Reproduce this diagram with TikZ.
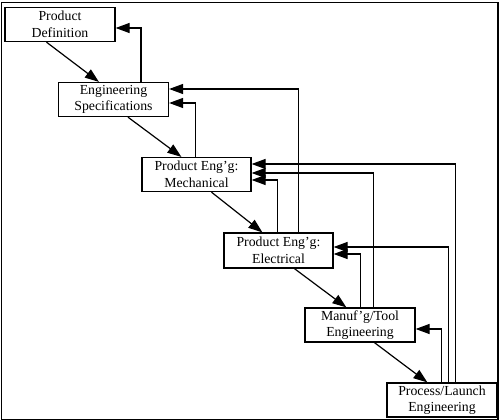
\documentclass[tikz,border=0pt]{standalone}
\usepackage{fontspec}
\setmainfont{Liberation Serif}
\usetikzlibrary{arrows.meta}
\begin{document}
\begin{tikzpicture}[x=1pt,y=-1pt,
  box/.style={draw,line width=1.2pt,minimum width=110pt,minimum height=34pt,inner sep=0pt,
    align=center,font=\fontsize{13.8pt}{16.5pt}\selectfont},
  arr/.style={line width=1.2pt,-{Triangle[length=14pt,width=10pt]}}]
\useasboundingbox (0,0) rectangle (501,420);
\draw[line width=1.6pt] (1.5,2.5) rectangle (498,419.5);
\node[box] (pd) at (60,24.5) {Product\\Definition};
\node[box] (es) at (113.5,99.5) {Engineering\\Specifications};
\node[box,minimum width=109pt] (me) at (196.5,174.5) {Product Eng’g:\\Mechanical};
\node[box,minimum width=109pt,minimum height=35pt] (el) at (278.5,250.5) {Product Eng’g:\\Electrical};
\node[box] (mt) at (360,325) {Manuf’g/Tool\\Engineering};
\node[box] (pl) at (442,400) {Process/Launch\\Engineering};
% forward flow
\draw[arr] ([xshift=42pt]pd.south west) -- ([xshift=41pt]es.north west);
\draw[arr] ([xshift=70pt]es.south west) -- ([xshift=40pt]me.north west);
\draw[arr] ([xshift=70pt]me.south west) -- ([xshift=39pt]el.north west);
\draw[arr] ([xshift=71pt]el.south west) -- ([xshift=42pt]mt.north west);
\draw[arr] ([xshift=70pt]mt.south west) -- ([xshift=41pt]pl.north west);
% feedback
\draw[arr] ([xshift=83pt]es.north west) |- ([yshift=-3.5pt]pd.east);
\draw[arr] ([xshift=54pt]me.north west) |- ([yshift=-3.5pt]es.east);
\draw[arr] ([xshift=75pt]el.north west) |- ([yshift=10.5pt]es.east);
\draw[arr] ([xshift=54pt]el.north west) |- ([yshift=-5.5pt]me.east);
\draw[arr] ([xshift=69pt]mt.north west) |- ([yshift=1.5pt]me.east);
\draw[arr] ([xshift=69pt]pl.north west) |- ([yshift=10.5pt]me.east);
\draw[arr] ([xshift=62pt]pl.north west) |- ([yshift=3.5pt]el.east);
\draw[arr] ([xshift=56pt]mt.north west) |- ([yshift=-3.5pt]el.east);
\draw[arr] ([xshift=55pt]pl.north west) |- ([yshift=-4pt]mt.east);
\end{tikzpicture}
\end{document}
